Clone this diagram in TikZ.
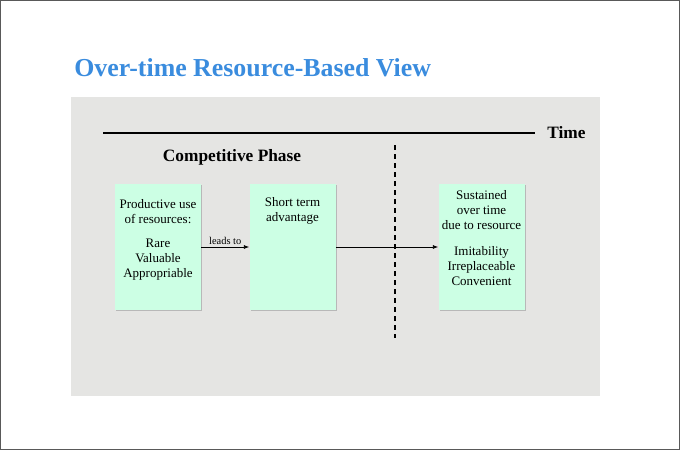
\documentclass[tikz,border=0pt]{standalone}
\usepackage{fontspec}
\setmainfont{Liberation Serif}
\usepackage{xcolor}
\usepackage{tikz}
\usetikzlibrary{arrows.meta, positioning, shadows}

\definecolor{titleblue}{RGB}{58,140,222}
\definecolor{panelgray}{RGB}{229,229,227}
\definecolor{mint}{RGB}{204,255,228}

\begin{document}
\begin{tikzpicture}[
    x=0.75pt, y=-0.75pt,
    >={Latex[length=4pt,width=3pt]},
    % Styles
    phasebox/.style={fill=mint, minimum width=64.5pt, minimum height=94.5pt, inner sep=0pt,
        drop shadow={shadow xshift=1pt, shadow yshift=-1pt, fill=black!35, opacity=0.7}},
    boxtext/.style={font=\fontsize{9.75}{11.25}\selectfont, align=center, inner sep=0pt},
    heading/.style={font=\fontsize{13}{15}\selectfont\bfseries, inner sep=0pt},
    arrow/.style={->, line width=0.6pt},
]
\useasboundingbox (0,0) rectangle (680,450);
\draw[black!65, line width=0.75pt] (0.5,0.5) rectangle (679.5,449.5);

% ── Title and panel ──
\node[anchor=west, inner sep=0pt, text=titleblue, font=\fontsize{19.4}{23}\selectfont\bfseries] (title) at (74,68) {Over-time Resource-Based View};
\fill[panelgray] (71,97) rectangle (600,396);

% ── Time axis ──
\node[heading, anchor=west] (time) at (547,133) {Time};
\coordinate (tstart) at (103,133);
\draw[line width=1.7pt] (tstart) -- ([xshift=-9pt]time.west);

\node[heading] (phase) at (232,157) {Competitive Phase};

\coordinate (dtop) at (395,145);
\coordinate (dbot) at (395,338);
\draw[line width=1.5pt, dash pattern=on 3.75pt off 3pt] (dtop) -- (dbot);

% ── Boxes ──
\node[phasebox] (prod) at (158,247) {};
\node[phasebox] (short) at (292.5,247) {};
\node[phasebox] (sust) at (481.5,247) {};

\node[boxtext, below=11.25pt of prod.north] (prodtxt) {Productive use\\of resources:\\[7.25pt]Rare\\Valuable\\Appropriable};
\node[boxtext, below=9.75pt of short.north] (shorttxt) {Short term\\advantage};
\node[boxtext, below=4.5pt of sust.north] (susttxt) {Sustained\\over time\\due to resource\\[8.75pt]Imitability\\Irreplaceable\\Convenient};

% ── Arrows ──
\draw[arrow] (prod) -- node[above, inner sep=1.5pt, font=\fontsize{7.8}{9}\selectfont] (leads) {leads to} (short);
\draw[arrow] (short) -- (sust);

\end{tikzpicture}
\end{document}
